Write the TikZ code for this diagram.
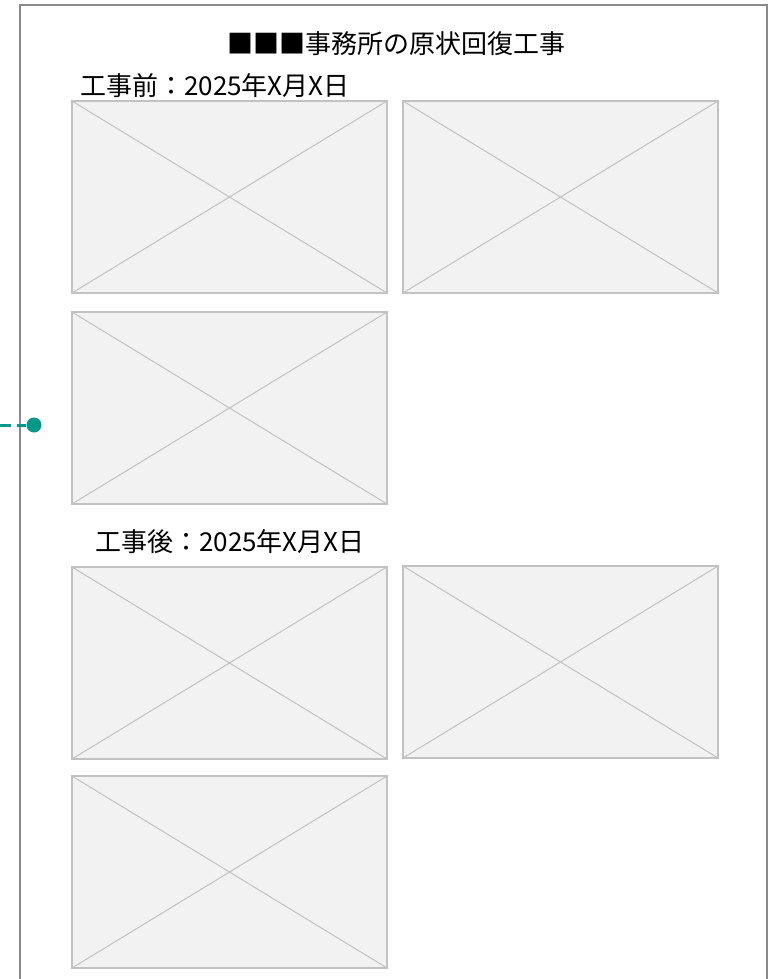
\documentclass[tikz,border=0pt]{standalone}
\usepackage{fontspec}
\newfontfamily\cjk{Noto Sans CJK JP}
\definecolor{framegray}{HTML}{8A8A8A}
\definecolor{boxedge}{HTML}{C2C2C2}
\definecolor{boxfill}{HTML}{F2F2F2}
\definecolor{teal}{HTML}{00998A}
\begin{document}
\begin{tikzpicture}[x=1pt,y=-1pt,
  photo/.style={draw=boxedge, line width=2.5pt, fill=boxfill, minimum width=315pt, minimum height=192pt, inner sep=0pt, outer sep=0pt, anchor=north west},
  diag/.style={draw=boxedge, line width=1pt},
  lbl/.style={font=\cjk\fontsize{26}{30}\selectfont, inner sep=0pt, anchor=west},
  ttl/.style={font=\cjk\fontsize{26}{30}\selectfont, inner sep=0pt}]
\useasboundingbox (0,0) rectangle (770,979);
\begin{scope}
\clip (0,0) rectangle (770,979);
\draw[framegray, line width=2pt] (20,5) rectangle (767,1000);
\end{scope}
\node[ttl] (title) at (396,44) {■■■事務所の原状回復工事};
\node[lbl] (before) at (80,86) {工事前：2025年X月X日};
\node[lbl] (after) at (95,542) {工事後：2025年X月X日};
\node[photo] (p1) at (72,101) {};
\node[photo] (p2) at (403,101) {};
\node[photo] (p3) at (72,312) {};
\node[photo] (p4) at (72,567) {};
\node[photo] (p5) at (403,566) {};
\node[photo] (p6) at (72,776) {};
\foreach \p in {p1,p2,p3,p4,p5,p6}{
  \draw[diag] (\p.north west) -- (\p.south east);
  \draw[diag] (\p.south west) -- (\p.north east);
}
\coordinate (free) at (0,425);
\node[circle, fill=teal, inner sep=0pt, minimum size=15pt] (dot) at (34,425) {};
\draw[teal, line width=3pt, dash pattern=on 11pt off 6pt] (free) -- (dot);
\end{tikzpicture}
\end{document}
